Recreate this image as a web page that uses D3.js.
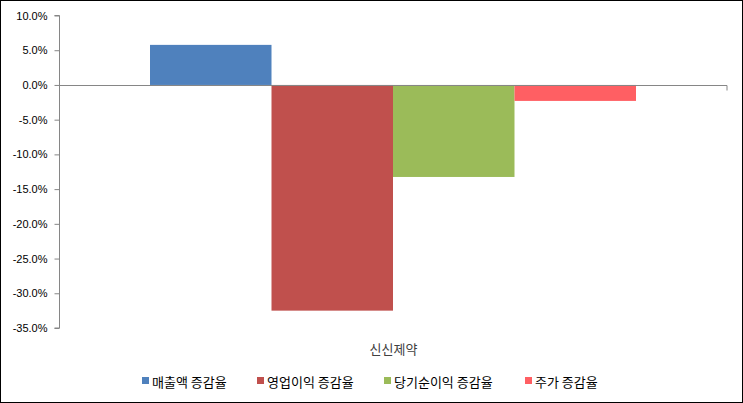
<!DOCTYPE html>
<html><head><meta charset="utf-8">
<script src="https://cdn.jsdelivr.net/npm/d3@7"></script>
<style>body{margin:0;background:#fff}svg{display:block}</style>
</head><body>
<script>
const categories = ["신신제약"];
const seriesNames = ["매출액 증감율","영업이익 증감율","당기순이익 증감율","주가 증감율"];
const seriesValues = [5.77, -32.5, -13.25, -2.3];
const seriesColors = ["#4F81BD","#C0504D","#9BBB59","#FF5F63"];
const yTicks = [10,5,0,-5,-10,-15,-20,-25,-30,-35];

const W=743,H=403;
const svg=d3.select("body").append("svg").attr("width",W).attr("height",H);
svg.append("rect").attr("x",0.5).attr("y",0.5).attr("width",W-1).attr("height",H-1)
  .attr("fill","#fff").attr("stroke","#000").attr("stroke-width",1);

const x0=59, x1=727;
const y=d3.scaleLinear().domain([10,-35]).range([15.5,328]);
const xc=d3.scaleBand().domain(categories).range([x0,x1]);
// gap width 150%
const xs=d3.scaleBand().domain(seriesNames).range([x0+91,x1-91]).paddingInner(0);

const font="'Noto Sans CJK KR','Noto Sans',sans-serif";

// y axis
const yAxis=d3.axisLeft(y).tickValues(yTicks).tickSize(5).tickFormat(d=>d.toFixed(1)+"%");
const ga=svg.append("g").attr("transform",`translate(${x0+0.5},0)`).call(yAxis);
ga.selectAll("path,line").attr("stroke","#868686");
ga.select(".domain").attr("d",`M-5,${y(10)}H0V${y(-35)}H-5`);
ga.selectAll("text").attr("font-family","Arial, 'Liberation Sans', sans-serif").attr("font-size",11).attr("fill","#000").attr("x",-12);

// bars
svg.append("g").selectAll("rect").data(seriesNames).join("rect")
  .attr("x",d=>xs(d)).attr("width",xs.bandwidth())
  .attr("y",(d,i)=>y(Math.max(0,seriesValues[i])))
  .attr("height",(d,i)=>Math.abs(y(seriesValues[i])-y(0)))
  .attr("fill",(d,i)=>seriesColors[i]);

// x axis at 0
const y0=Math.round(y(0))+0.5;
svg.append("path").attr("d",`M${x0},${y0}H${x1}V${y0+5}`).attr("stroke","#868686").attr("fill","none").attr("stroke-width",1);

// category label
svg.selectAll(".cat").data(categories).join("text").attr("class","cat")
  .attr("x",d=>xc(d)+xc.bandwidth()/2+0.5).attr("y",354).attr("text-anchor","middle")
  .attr("font-family",font).attr("font-size",13).attr("fill","#404040").text(d=>d);

// legend
const legX=[142,257,384,525];
const lg=svg.append("g").selectAll("g").data(seriesNames).join("g")
  .attr("transform",(d,i)=>`translate(${legX[i]},0)`);
lg.append("rect").attr("x",0).attr("y",377).attr("width",7).attr("height",7).attr("fill",(d,i)=>seriesColors[i]);
lg.append("text").attr("x",10).attr("y",387).attr("font-family",font).attr("font-size",13).attr("fill","#000").text(d=>d);
</script>
</body></html>
